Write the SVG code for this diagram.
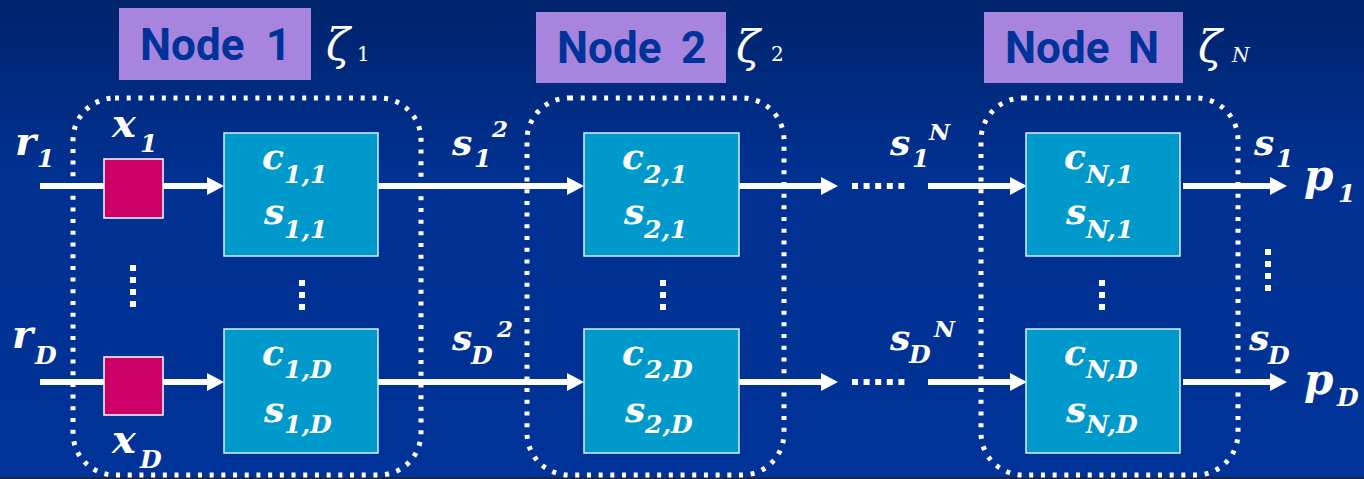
<svg xmlns="http://www.w3.org/2000/svg" width="1364" height="479" viewBox="0 0 1364 479">
  <defs>
    <linearGradient id="bg" x1="0" y1="0" x2="0" y2="1">
      <stop offset="0" stop-color="#00246c"/>
      <stop offset="0.35" stop-color="#003090"/>
      <stop offset="1" stop-color="#003399"/>
    </linearGradient>
    <style>
      .lbl { fill: #a784dd; }
      .lbltxt { font-weight: bold; font-size: 44px; fill: #003399; }
      .zeta { font-style: italic; font-size: 44px; fill: #fff; }
      .zsub { font-size: 20px; fill: #fff; }
      .it { font-style: italic; }
      .bound { fill: none; stroke: #fff; stroke-width: 5; stroke-dasharray: 4 7.7; }
      .cell { fill: #0099cc; stroke: #d8f0ff; stroke-width: 1.5; }
      .gate { fill: #cc0066; stroke: #ffffff; stroke-width: 1.5; }
      .m { font-style: italic; font-weight: bold; fill: #fff; }
      .big { font-size: 40px; }
      .mid { font-size: 36px; }
      .pp { font-size: 42px; }
      .sub { font-size: 25px; }
      .sup { font-size: 23px; }
      .wire { stroke: #fff; stroke-width: 6; fill: none; }
      .head { fill: #fff; }
      .dot { fill: #fff; }
    </style>
    <!-- one arrowhead, tip at the origin -->
    <polygon id="ah" class="head" points="0,0 -17,-9 -17,9"/>
    <rect id="d" class="dot" x="-3" y="-3" width="6" height="6"/>
    <!-- vertical ellipses -->
    <g id="vdots4">
      <use href="#d" y="0"/><use href="#d" y="12"/><use href="#d" y="24"/><use href="#d" y="36"/>
    </g>
    <g id="vdots3">
      <use href="#d" y="0"/><use href="#d" y="12"/><use href="#d" y="24"/>
    </g>
    <g id="hdots5">
      <use href="#d" x="0"/><use href="#d" x="11.6"/><use href="#d" x="23.2"/><use href="#d" x="34.8"/><use href="#d" x="46.4"/>
    </g>
  </defs>

  <rect width="1364" height="479" fill="url(#bg)"/>
  <rect y="477" width="1364" height="2" fill="#1c2544"/>

  <!-- connectors -->
  <g id="connectors">
    <line class="wire" x1="40" y1="186" x2="208" y2="186"/>
    <use href="#ah" x="224" y="186"/>
    <line class="wire" x1="378" y1="186" x2="568" y2="186"/>
    <use href="#ah" x="584" y="186"/>
    <line class="wire" x1="739" y1="186" x2="822" y2="186"/>
    <use href="#ah" x="838" y="186"/>
    <use href="#hdots5" x="855" y="186"/>
    <line class="wire" x1="928" y1="186" x2="1011" y2="186"/>
    <use href="#ah" x="1027" y="186"/>
    <line class="wire" x1="1183" y1="186" x2="1271" y2="186"/>
    <use href="#ah" x="1287" y="186"/>

    <line class="wire" x1="40" y1="382" x2="208" y2="382"/>
    <use href="#ah" x="224" y="382"/>
    <line class="wire" x1="378" y1="382" x2="568" y2="382"/>
    <use href="#ah" x="584" y="382"/>
    <line class="wire" x1="739" y1="382" x2="822" y2="382"/>
    <use href="#ah" x="838" y="382"/>
    <use href="#hdots5" x="855" y="382"/>
    <line class="wire" x1="928" y1="382" x2="1011" y2="382"/>
    <use href="#ah" x="1027" y="382"/>
    <line class="wire" x1="1183" y1="382" x2="1271" y2="382"/>
    <use href="#ah" x="1287" y="382"/>
  </g>

  <!-- inputs -->
  <g id="inputs" style="font-family: 'DejaVu Serif', serif">
    <text class="m big" x="15" y="155">r</text><text class="m sub" x="37" y="167">1</text>
    <text class="m big" x="12" y="348">r</text><text class="m sub" x="35" y="364">D</text>
  </g>

  <!-- node 1 -->
  <g id="node1" style="font-family: 'DejaVu Serif', serif">
    <rect class="lbl" x="119" y="8" width="192" height="72"/>
    <text class="lbltxt" style="font-family: Roboto, 'DejaVu Sans', sans-serif" x="140" y="60">Node<tspan x="266">1</tspan></text>
    <text class="zeta" x="326" y="60">ζ</text><text class="zsub" x="357" y="61">1</text>
    <rect class="bound" x="73" y="98" width="348" height="377" rx="42" ry="42"/>
    <rect class="gate" x="104" y="159" width="59" height="59"/>
    <rect class="gate" x="104" y="357" width="59" height="58"/>
    <text class="m big" x="112" y="137">x</text><text class="m sub" x="140" y="152">1</text>
    <text class="m big" x="112" y="453">x</text><text class="m sub" x="140" y="468">D</text>
    <use href="#vdots4" x="133" y="268"/>
    <rect class="cell" x="224" y="133" width="154" height="123"/>
    <text class="m mid" x="262" y="169">c</text><text class="m sub" x="284" y="183">1,1</text>
    <text class="m mid" x="264" y="224">s</text><text class="m sub" x="284" y="238">1,1</text>
    <use href="#vdots3" x="302" y="283"/>
    <rect class="cell" x="224" y="329" width="154" height="124"/>
    <text class="m mid" x="262" y="365">c</text><text class="m sub" x="284" y="378">1,D</text>
    <text class="m mid" x="264" y="422">s</text><text class="m sub" x="284" y="433">1,D</text>
  </g>

  <!-- node 2 -->
  <g id="node2" style="font-family: 'DejaVu Serif', serif">
    <rect class="lbl" x="536" y="12" width="190" height="71"/>
    <text class="lbltxt" style="font-family: Roboto, 'DejaVu Sans', sans-serif" x="557" y="63">Node<tspan x="681">2</tspan></text>
    <text class="zeta" x="736" y="62">ζ</text><text class="zsub" x="771" y="61">2</text>
    <rect class="bound" x="527" y="98" width="257" height="377" rx="42" ry="42"/>
    <text class="m mid" x="452" y="155">s</text><text class="m sub" x="474" y="167">1</text><text class="m sup" x="492" y="137">2</text>
    <text class="m mid" x="452" y="350">s</text><text class="m sub" x="471" y="364">D</text><text class="m sup" x="497" y="337">2</text>
    <rect class="cell" x="584" y="133" width="155" height="123"/>
    <text class="m mid" x="622" y="169">c</text><text class="m sub" x="644" y="183">2,1</text>
    <text class="m mid" x="624" y="224">s</text><text class="m sub" x="644" y="238">2,1</text>
    <use href="#vdots3" x="663" y="283"/>
    <rect class="cell" x="584" y="329" width="155" height="124"/>
    <text class="m mid" x="622" y="365">c</text><text class="m sub" x="645" y="378">2,D</text>
    <text class="m mid" x="625" y="422">s</text><text class="m sub" x="645" y="433">2,D</text>
  </g>

  <!-- node N -->
  <g id="nodeN" style="font-family: 'DejaVu Serif', serif">
    <rect class="lbl" x="984" y="12" width="199" height="71"/>
    <text class="lbltxt" style="font-family: Roboto, 'DejaVu Sans', sans-serif" x="1005" y="63">Node<tspan x="1128">N</tspan></text>
    <text class="zeta" x="1198" y="62">ζ</text><text class="zsub it" x="1232" y="62">N</text>
    <rect class="bound" x="981" y="98" width="257" height="377" rx="42" ry="42"/>
    <text class="m mid" x="890" y="155">s</text><text class="m sub" x="912" y="167">1</text><text class="m sup" x="929" y="140">N</text>
    <text class="m mid" x="890" y="350">s</text><text class="m sub" x="909" y="363">D</text><text class="m sup" x="934" y="337">N</text>
    <rect class="cell" x="1026" y="133" width="154" height="123"/>
    <text class="m mid" x="1064" y="169">c</text><text class="m sub" x="1086" y="183">N,1</text>
    <text class="m mid" x="1066" y="224">s</text><text class="m sub" x="1086" y="238">N,1</text>
    <use href="#vdots3" x="1102" y="283"/>
    <rect class="cell" x="1026" y="329" width="154" height="124"/>
    <text class="m mid" x="1064" y="365">c</text><text class="m sub" x="1086" y="378">N,D</text>
    <text class="m mid" x="1066" y="422">s</text><text class="m sub" x="1086" y="433">N,D</text>
  </g>

  <!-- outputs -->
  <g id="outputs" style="font-family: 'DejaVu Serif', serif">
    <text class="m mid" x="1254" y="155">s</text><text class="m sub" x="1276" y="167">1</text>
    <text class="m mid" x="1249" y="350">s</text><text class="m sub" x="1268" y="364">D</text>
    <text class="m pp" x="1304" y="190">p</text><text class="m sub" x="1338" y="202">1</text>
    <text class="m pp" x="1304" y="394">p</text><text class="m sub" x="1337" y="406">D</text>
    <use href="#vdots4" x="1268" y="252"/>
  </g>
</svg>
